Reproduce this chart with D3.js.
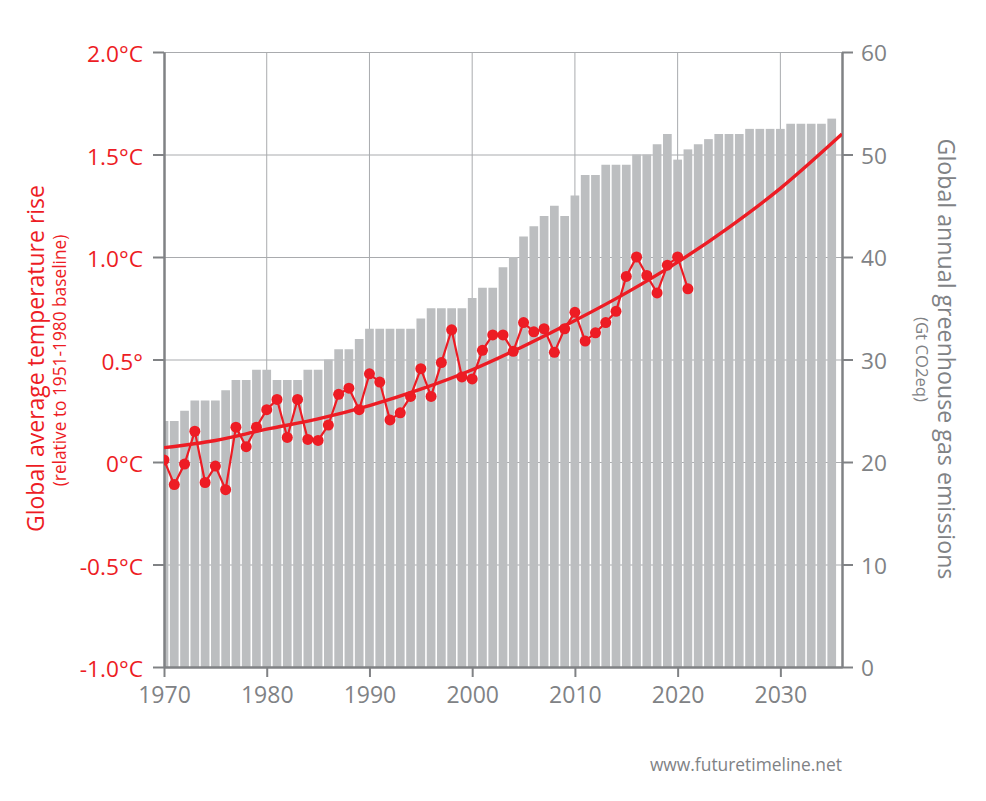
<!DOCTYPE html>
<html><head><meta charset="utf-8">
<script src="https://cdn.jsdelivr.net/npm/d3@7"></script>
<style>html,body{margin:0;padding:0;background:#fff}svg{display:block}text{font-family:"Open Sans",sans-serif}</style>
</head><body><svg id="c" width="986" height="801"></svg>
<script>
const emissionYears = d3.range(1970, 2036);
const emissions = [24,24,25,26,26,26,27,28,28,29,29,28,28,28,29,29,30,31,31,32,33,33,33,33,33,34,35,35,35,35,36,37,37,39,40,42,43,44,45,44,46,48,48,49,49,49,50,50,51,52,49.5,50.5,51,51.5,52,52,52,52.5,52.5,52.5,52.5,53,53,53,53,53.5];
const tempYears = d3.range(1970, 2022);
const temps = [0.01,-0.11,-0.01,0.15,-0.10,-0.02,-0.135,0.17,0.075,0.17,0.255,0.305,0.12,0.305,0.11,0.105,0.18,0.33,0.36,0.255,0.43,0.39,0.205,0.24,0.32,0.455,0.32,0.485,0.645,0.415,0.405,0.545,0.62,0.62,0.54,0.68,0.635,0.65,0.535,0.65,0.73,0.59,0.63,0.68,0.735,0.905,1.0,0.91,0.825,0.96,1.0,0.845];
const trendYears = [1970,1975,1980,1985,1990,1995,2000,2005,2010,2015,2020,2025,2030,2036];
const trend = [0.07,0.105,0.16,0.21,0.275,0.355,0.45,0.565,0.69,0.825,0.975,1.145,1.335,1.6];
const xTicks = [1970,1980,1990,2000,2010,2020,2030];
const tempTicks = [2,1.5,1,0.5,0,-0.5,-1];
const tempLabels = ["2.0°C","1.5°C","1.0°C","0.5°","0°C","-0.5°C","-1.0°C"];
const emissionTicks = [0,10,20,30,40,50,60];

const RED="#ed1c24", GREY="#808285", BAR="#bcbec0", GRID="#a9abae";
const W={l:164,r:842,t:52,b:667};
const svg=d3.select("#c");
const x=d3.scaleLinear().domain([1970,2036]).range([W.l,W.r]);
const yT=d3.scaleLinear().domain([-1,2]).range([W.b,W.t]);
const yE=d3.scaleLinear().domain([0,60]).range([W.b,W.t]);

svg.append("defs").append("clipPath").attr("id","p").append("rect")
  .attr("x",W.l).attr("y",W.t-5).attr("width",W.r-W.l).attr("height",W.b-W.t+5);

// grid
const grid=svg.append("g").attr("stroke",GRID).attr("stroke-width",1);
grid.selectAll("line.h").data(tempTicks).join("line").attr("class","h")
  .attr("x1",W.l).attr("x2",W.r).attr("y1",d=>yT(d)+.5).attr("y2",d=>yT(d)+.5);
grid.selectAll("line.v").data(xTicks.slice(1)).join("line").attr("class","v")
  .attr("x1",d=>x(d)).attr("x2",d=>x(d)).attr("y1",W.t).attr("y2",W.b);

// bars
const bw=8.7;
svg.append("g").attr("clip-path","url(#p)").attr("fill",BAR)
  .selectAll("rect").data(emissions).join("rect")
  .attr("x",(d,i)=>x(emissionYears[i])-bw/2).attr("width",bw)
  .attr("y",d=>yE(d)).attr("height",d=>W.b-yE(d));

// axes
function style(g,col,size,dy){
  g.select(".domain").attr("stroke",GREY).attr("stroke-width",2.5);
  g.selectAll(".tick line").attr("stroke",GREY).attr("stroke-width",2);
  g.selectAll(".tick text").attr("fill",col).attr("font-size",size).attr("font-family",'"Open Sans",sans-serif')
    .attr("transform",`translate(0,${dy})`);
}
svg.append("g").attr("transform",`translate(${W.l},0)`)
  .call(d3.axisLeft(yT).tickValues(tempTicks).tickFormat((d,i)=>tempLabels[i]).tickSize(11).tickSizeOuter(0).tickPadding(10))
  .call(style,RED,22.7,2.5);
svg.append("g").attr("transform",`translate(${W.r},0)`)
  .call(d3.axisRight(yE).tickValues(emissionTicks).tickSize(11).tickSizeOuter(0).tickPadding(8))
  .call(style,GREY,22.7,1.5);
svg.append("g").attr("transform",`translate(0,${W.b})`)
  .call(d3.axisBottom(x).tickValues(xTicks).tickFormat(d3.format("d")).tickSize(10).tickSizeOuter(0).tickPadding(7))
  .call(style,GREY,23,3);

// temperature
svg.select("defs").append("clipPath").attr("id","p2").append("rect")
  .attr("x",W.l).attr("y",W.t).attr("width",W.r-W.l).attr("height",W.b-W.t);
const plot=svg.append("g").attr("clip-path","url(#p2)");
plot.append("path").attr("fill","none").attr("stroke",RED).attr("stroke-width",2.2)
  .attr("d",d3.line().x((d,i)=>x(tempYears[i])).y(d=>yT(d))(temps));
plot.append("path").attr("fill","none").attr("stroke",RED).attr("stroke-width",3.4)
  .attr("d",d3.line().curve(d3.curveCatmullRom.alpha(0.5)).x((d,i)=>x(trendYears[i])).y(d=>yT(d))(trend));
plot.selectAll("circle").data(temps).join("circle").attr("fill",RED).attr("r",5.5)
  .attr("cx",(d,i)=>x(tempYears[i])).attr("cy",d=>yT(d));

// titles
function title(t,px,py,rot,size,col){
  return svg.append("text").attr("transform",`translate(${px},${py}) rotate(${rot})`)
    .attr("text-anchor","middle").attr("fill",col).attr("font-size",size).text(t);
}
title("Global average temperature rise",44,358.5,-90,23,RED);
title("(relative to 1951-1980 baseline)",66,360.5,-90,17.3,RED);
title("Global annual greenhouse gas emissions",938,359,90,23.2,GREY);
title("(Gt CO2eq)",916,359.5,90,16.7,GREY);
svg.append("text").attr("x",842).attr("y",771).attr("text-anchor","end").attr("fill",GREY)
  .attr("font-size",17.4).text("www.futuretimeline.net");
</script></body></html>
